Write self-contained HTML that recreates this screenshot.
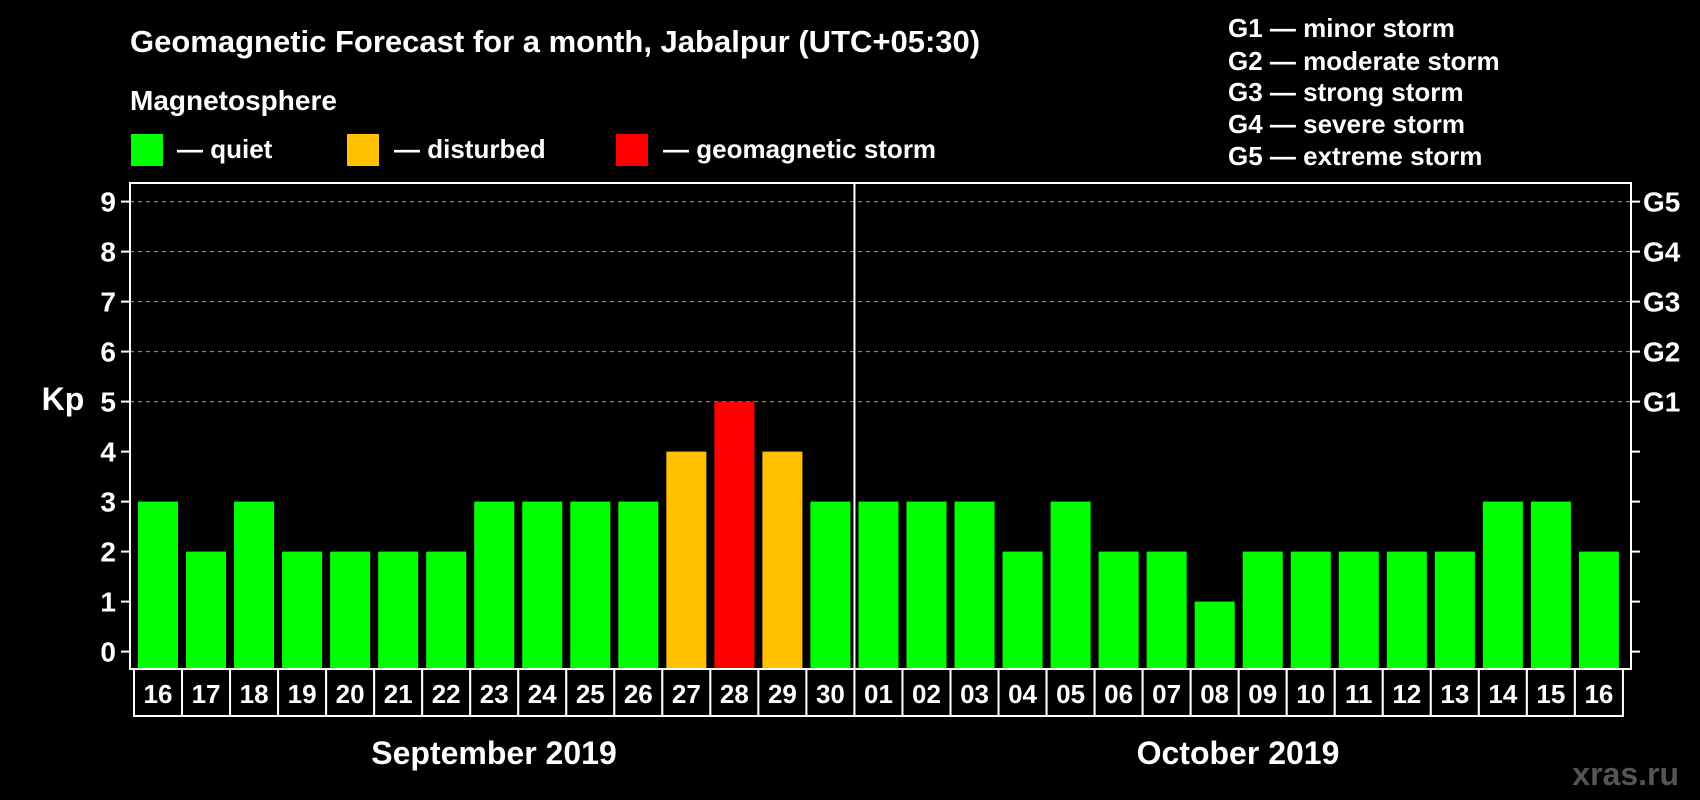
<!DOCTYPE html>
<html><head><meta charset="utf-8"><style>
html,body{margin:0;padding:0;background:#000;}
svg{display:block;font-family:"Liberation Sans",Arial,sans-serif;font-weight:bold;}
</style></head><body>
<svg id="chart" width="1700" height="800" viewBox="0 0 1700 800">
<rect x="0" y="0" width="1700" height="800" fill="#000"/>
<text x="130" y="52" fill="#fff" font-size="31">Geomagnetic Forecast for a month, Jabalpur (UTC+05:30)</text>
<text x="130" y="110" fill="#fff" font-size="28">Magnetosphere</text>
<g><rect x="131" y="134" width="32" height="32" fill="#00ff00"/><text x="177" y="158" fill="#fff" font-size="26">— quiet</text></g>
<g><rect x="347" y="134" width="32" height="32" fill="#ffc000"/><text x="394" y="158" fill="#fff" font-size="26">— disturbed</text></g>
<g><rect x="616" y="134" width="32" height="32" fill="#ff0000"/><text x="663" y="158" fill="#fff" font-size="26">— geomagnetic storm</text></g>
<g fill="#fff" font-size="26">
<text x="1228" y="37">G1 — minor storm</text>
<text x="1228" y="70">G2 — moderate storm</text>
<text x="1228" y="101">G3 — strong storm</text>
<text x="1228" y="133">G4 — severe storm</text>
<text x="1228" y="165">G5 — extreme storm</text>
</g>
<text x="63" y="410" fill="#fff" font-size="32" text-anchor="middle">Kp</text>
<g id="grid"></g>
<g id="bars"></g>
<g id="axes"></g>
<text x="494" y="764" fill="#fff" font-size="32" text-anchor="middle">September 2019</text>
<text x="1238" y="764" fill="#fff" font-size="32" text-anchor="middle">October 2019</text>
<text x="1679" y="785" fill="#555" font-size="32" text-anchor="end">xras.ru</text>
</svg>
<script>
const days = ["16","17","18","19","20","21","22","23","24","25","26","27","28","29","30","01","02","03","04","05","06","07","08","09","10","11","12","13","14","15","16"];
const kpValues = [3,2,3,2,2,2,2,3,3,3,3,4,5,4,3,3,3,3,2,3,2,2,1,2,2,2,2,2,3,3,2];
const yTicks = [0,1,2,3,4,5,6,7,8,9];
const gLabels = ["","","","","","G1","G2","G3","G4","G5"];
const NS="http://www.w3.org/2000/svg";
const pLeft=130, pRight=1631, pTop=183, pBottom=669, slot0=134, slotW=48.03;
const yZero=651.6, unitPx=50;
function yScale(v){return yZero-v*unitPx;}
function xScale(i){return slot0+i*slotW;}
function mk(tag,attrs,parent){const e=document.createElementNS(NS,tag);for(const k in attrs)e.setAttribute(k,attrs[k]);parent.appendChild(e);return e;}
const gridG=document.getElementById('grid'),barsG=document.getElementById('bars'),axesG=document.getElementById('axes');
yTicks.forEach((t,i)=>{
  const y=yScale(t);
  if(t>=5){const g=mk('line',{x1:pLeft,x2:pRight,y1:y,y2:y,stroke:'#999','stroke-width':1,'stroke-dasharray':'4,4'},gridG);
    
    }
  const tl=mk('line',{x1:pLeft-9,x2:pLeft,y1:y,y2:y,stroke:'#fff','stroke-width':2},axesG);
  
  
  const tr=mk('line',{x1:pRight,x2:pRight+9,y1:y,y2:y,stroke:'#fff','stroke-width':2},axesG);
  
  
  const lb=mk('text',{x:pLeft-14,y:y+10,fill:'#fff','font-size':28,'text-anchor':'end'},axesG);
  lb.textContent=t;
  
  
  if(gLabels[i]){const gl=mk('text',{x:pRight+12,y:y+10,fill:'#fff','font-size':28},axesG);
    gl.textContent=gLabels[i];
    
    }
});
kpValues.forEach((v,i)=>{
  const c=v>=5?'#ff0000':(v>=4?'#ffc000':'#00ff00');
  const x=xScale(i)+4, w=slotW-8, yt=yScale(v);
  const b=mk('rect',{x:x,y:yt,width:w,height:pBottom-1-yt,fill:c},barsG);
  
  
  const box=mk('rect',{x:xScale(i),y:pBottom,width:slotW,height:47,fill:'#000',stroke:'#fff','stroke-width':2},axesG);
  
  
  const dt=mk('text',{x:xScale(i)+slotW/2,y:pBottom+34,fill:'#fff','font-size':26,'text-anchor':'middle'},axesG);
  dt.textContent=days[i];
  
  
});
const fr=mk('rect',{x:pLeft,y:pTop,width:pRight-pLeft,height:pBottom-pTop,fill:'none',stroke:'#fff','stroke-width':2},axesG);


const dv=mk('line',{x1:xScale(15),x2:xScale(15),y1:pTop,y2:pBottom,stroke:'#fff','stroke-width':2},axesG);


</script>
</body></html>
